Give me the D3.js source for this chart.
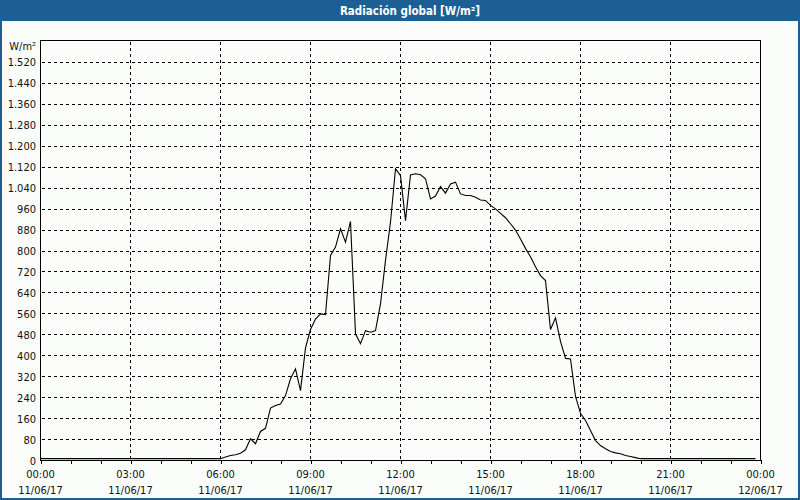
<!DOCTYPE html>
<html>
<head>
<meta charset="utf-8">
<script src="https://cdn.jsdelivr.net/npm/d3@7"></script>
<style>
  html, body { margin: 0; padding: 0; background: #fbfdfb; }
  svg { display: block; }
  text { font-family: "DejaVu Sans Condensed", "Liberation Sans", sans-serif; }
</style>
</head>
<body>
<svg id="chart" width="800" height="500"></svg>
<script>
// ---- DATA ----
const chartTitle = "Radiación global [W/m²]";
const unitLabel = "W/m²";
const startTime = "2017-06-11T00:00:00";
const stepMinutes = 10;
// Global radiation, one value every 10 minutes from 00:00 to 23:50 (W/m²)
const radiation = [
  7,7,7,7,7,7,7,7,7,7,7,7,7,7,7,7,7,7,7,7,7,7,7,7,7,7,7,7,7,7,7,7,7,7,7,7,7,
  13,19,22,28,41,83,64,111,123,200,
  210,216,248,312,350,267,430,500,540,560,
  557,783,815,885,834,913,484,446,496,490,
  496,598,764,910,1114,1088,916,1090,1095,1091,
  1076,999,1010,1046,1021,1056,1063,1018,1012,1012,
  1005,995,993,974,961,944,927,904,880,846,
  810,778,740,706,687,500,545,455,390,388,
  245,180,153,115,76,57,45,34,29,26,
  19,15,11,
  7,7,7,7,7,7,7,7,7,7,7,7,7,7,7,7,7,7,7,7,7,7,7,7
];
const yTickValues = [0,80,160,240,320,400,480,560,640,720,800,880,960,1040,1120,1200,1280,1360,1440,1520];
const xTickTimes = ["00:00","03:00","06:00","09:00","12:00","15:00","18:00","21:00","00:00"];
const xTickDates = ["11/06/17","11/06/17","11/06/17","11/06/17","11/06/17","11/06/17","11/06/17","11/06/17","12/06/17"];

// ---- DRAW ----
const svg = d3.select("#chart");
const W = 800, H = 500;
const blue = "#1c5f95";
const textColor = "#111";

const t0 = new Date(startTime);
const t1 = d3.timeDay.offset(t0, 1);
const x = d3.scaleTime().domain([t0, t1]).range([40.5, 760.5]);
const y = d3.scaleLinear().domain([0, 1600]).range([460.5, 41.5]);

const locale = d3.formatLocale({decimal: ",", thousands: ".", grouping: [3], currency: ["", " €"]});
const fmt = locale.format(",d");

// background
svg.append("rect").attr("width", W).attr("height", H).attr("fill", "#fbfdfb");

// title bar
svg.append("rect").attr("x", 0).attr("y", 0).attr("width", W).attr("height", 21).attr("fill", blue);
svg.append("text").attr("x", 410).attr("y", 15)
  .attr("text-anchor", "middle").attr("fill", "#fff")
  .attr("font-size", 11.5).attr("font-weight", "bold").text(chartTitle);

// window borders
svg.append("rect").attr("x", 0).attr("y", 0).attr("width", 2).attr("height", H).attr("fill", blue);
svg.append("rect").attr("x", W - 2).attr("y", 0).attr("width", 2).attr("height", H).attr("fill", blue);
svg.append("rect").attr("x", 0).attr("y", H - 2).attr("width", W).attr("height", 2).attr("fill", blue);

const plotTop = 40.5, plotBottom = 460.5, plotLeft = 40.5, plotRight = 760.5;

// horizontal gridlines
const gy = v => Math.round(y(v) - 0.5) + 0.5;
svg.append("g").selectAll("line").data(yTickValues.filter(v => v > 0)).join("line")
  .attr("x1", plotLeft + 1).attr("x2", plotRight)
  .attr("y1", gy).attr("y2", gy)
  .attr("stroke", "#000").attr("stroke-width", 1)
  .attr("stroke-dasharray", "3,3").attr("shape-rendering", "crispEdges");

// vertical gridlines every 3 hours
const majorTimes = d3.range(1, 8).map(h => d3.timeHour.offset(t0, h * 3));
svg.append("g").selectAll("line").data(majorTimes).join("line")
  .attr("x1", d => x(d)).attr("x2", d => x(d))
  .attr("y1", plotTop + 1).attr("y2", plotBottom)
  .attr("stroke", "#000").attr("stroke-width", 1)
  .attr("stroke-dasharray", "3,3").attr("shape-rendering", "crispEdges");

// data line
const data = radiation.map((v, i) => ({t: d3.timeMinute.offset(t0, i * stepMinutes), v}));
const line = d3.line().x(d => x(d.t)).y(d => y(d.v));
svg.append("path").datum(data).attr("d", line)
  .attr("fill", "none").attr("stroke", "#000").attr("stroke-width", 1.1);

// plot frame
svg.append("rect").attr("x", plotLeft).attr("y", plotTop)
  .attr("width", plotRight - plotLeft).attr("height", plotBottom - plotTop)
  .attr("fill", "none").attr("stroke", "#000").attr("shape-rendering", "crispEdges");

// hourly ticks on x axis
const xAxis = d3.axisBottom(x).ticks(d3.timeHour.every(1)).tickSize(4).tickFormat("");
const gx = svg.append("g").attr("transform", `translate(0,${plotBottom - 0.5})`).call(xAxis);
gx.select(".domain").remove();
gx.selectAll("line").attr("stroke", "#000").attr("shape-rendering", "crispEdges");

// x labels
const labelTimes = d3.range(0, 9).map(h => d3.timeHour.offset(t0, h * 3));
const xl = svg.append("g").attr("font-size", 11).attr("fill", textColor).attr("text-anchor", "middle");
xl.selectAll("text.t").data(labelTimes).join("text").attr("class", "t")
  .attr("x", d => x(d)).attr("y", 478).text((d, i) => xTickTimes[i]);
xl.selectAll("text.d").data(labelTimes).join("text").attr("class", "d")
  .attr("x", d => x(d)).attr("y", 494).text((d, i) => xTickDates[i]);

// y axis labels
const yAxis = d3.axisLeft(y).tickValues(yTickValues).tickSize(0).tickPadding(4).tickFormat(fmt);
const gya = svg.append("g").attr("transform", `translate(${plotLeft - 0.5},0)`).call(yAxis);
gya.select(".domain").remove();
gya.selectAll("text").attr("font-size", 11).attr("fill", textColor)
  .attr("font-family", "'DejaVu Sans Condensed', 'Liberation Sans', sans-serif");

// unit label
svg.append("text").attr("x", 36).attr("y", 50).attr("text-anchor", "end")
  .attr("font-size", 11).attr("fill", textColor).text(unitLabel);
</script>
</body>
</html>
